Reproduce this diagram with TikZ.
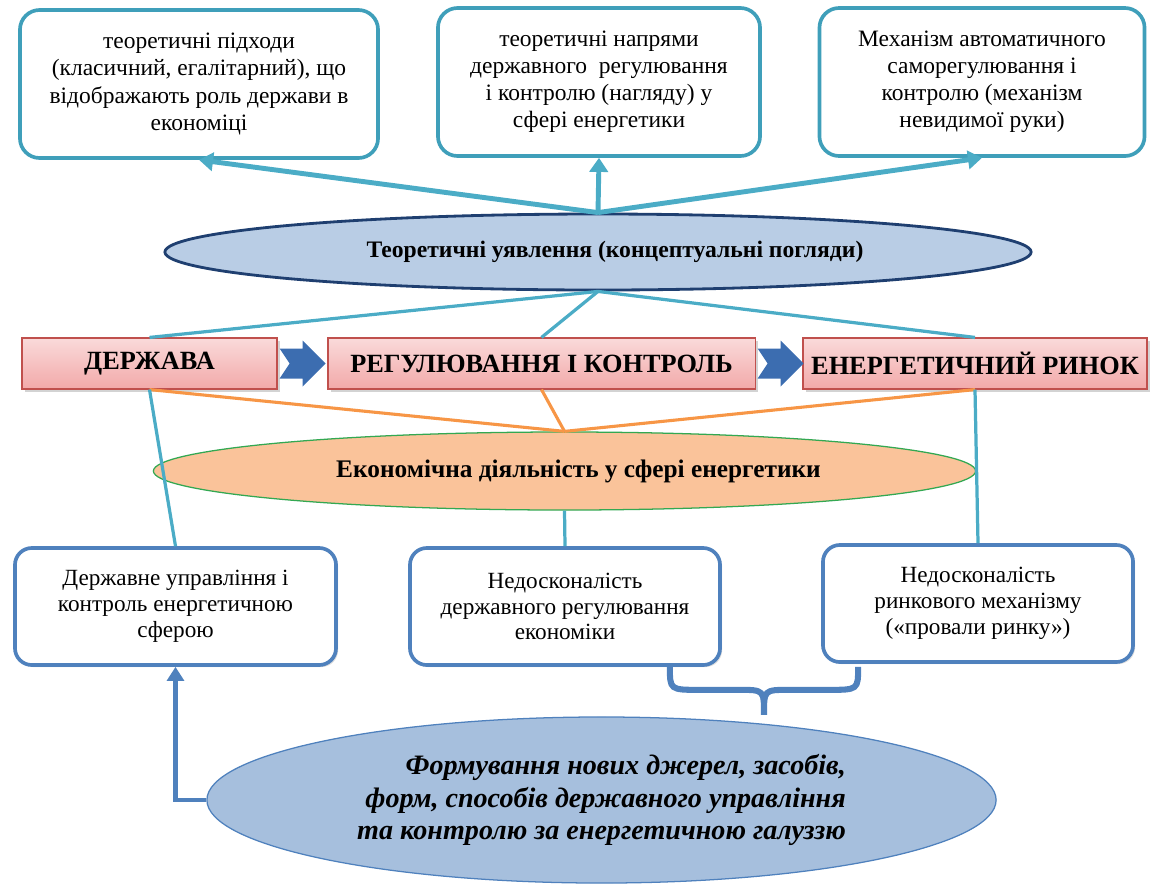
\documentclass[tikz,border=0pt]{standalone}
\usepackage{fontspec}
\setmainfont{Liberation Serif}
\usetikzlibrary{shapes.geometric,shadows,arrows.meta,calc}
\definecolor{tealline}{HTML}{4BACC6}
\definecolor{tealborder}{HTML}{3F9FBA}
\definecolor{navyline}{HTML}{1F3F70}
\definecolor{skyfill}{HTML}{B9CDE5}
\definecolor{pinktop}{HTML}{FADADA}
\definecolor{pinkbot}{HTML}{F2A9A9}
\definecolor{pinkline}{HTML}{C0504D}
\definecolor{orangeline}{HTML}{F79646}
\definecolor{peachfill}{HTML}{FAC39A}
\definecolor{greenline}{HTML}{33A852}
\definecolor{officeblue}{HTML}{4F81BD}
\definecolor{blockblue}{HTML}{3C6DB0}
\definecolor{bluefill}{HTML}{A6BFDD}

\begin{document}
\begin{tikzpicture}[x=0.025cm,y=-0.025cm,
  topbox/.style={draw=tealborder,line width=2.6pt,rounded corners=14pt,fill=white,
    minimum height=3.7cm,align=center,font=\fontsize{16.7}{19.3}\selectfont},
  statebox/.style={draw=pinkline,line width=0.8pt,top color=pinktop,bottom color=pinkbot,
    minimum height=1.275cm,font=\fontsize{18.7}{21}\selectfont\bfseries,
    drop shadow={shadow xshift=2pt,shadow yshift=-2pt,opacity=0.35}},
  lowbox/.style={draw=officeblue,line width=2.6pt,rounded corners=12pt,fill=white,
    minimum width=7.75cm,minimum height=2.925cm,align=center,
    font=\fontsize{16.5}{18.3}\selectfont,
    drop shadow={shadow xshift=1.5pt,shadow yshift=-1.5pt,opacity=0.25}},
  tealarrow/.style={draw=tealline,line width=3.5pt,-{Triangle[width=13pt,length=10pt]}},
  tealthin/.style={draw=tealline,line width=2.3pt},
  orangethin/.style={draw=orangeline,line width=2.2pt},
  brace/.style={draw=officeblue,line width=4.3pt}]
\useasboundingbox (0,0) rectangle (1157,890);
\node[topbox,minimum width=8.95cm] (tp) at (199,84)
  {теоретичні підходи\\(класичний, егалітарний), що\\відображають роль держави в\\економіці};
\node[topbox,minimum width=8.05cm] (tn) at (599,82)
  {теоретичні напрями\\державного\ \ регулювання\\і контролю (нагляду) у\\сфері енергетики};
\node[topbox,minimum width=8.125cm] (tm) at (982,82)
  {Механізм автоматичного\\саморегулювання і\\контролю (механізм\\невидимої руки)};
\node[ellipse,draw=navyline,line width=2pt,fill=skyfill,minimum width=21.65cm,minimum height=1.9cm,
  font=\fontsize{16.8}{19}\selectfont\bfseries] (te) at (598,252)
  {\hspace{0.85cm}Теоретичні уявлення (концептуальні погляди)};
\node[statebox,minimum width=6.375cm] (st) at (149.5,363.5) {ДЕРЖАВА};
\node[statebox,minimum width=10.675cm] (rk) at (541.5,363.5) {РЕГУЛЮВАННЯ І КОНТРОЛЬ};
\node[statebox,minimum width=8.6cm] (mk) at (975,363.5) {ЕНЕРГЕТИЧНИЙ РИНОК};
\node[ellipse,draw=greenline,line width=0.9pt,fill=peachfill,minimum width=20.55cm,minimum height=1.95cm,
  font=\fontsize{18}{20}\selectfont\bfseries] (ea) at (564.5,471)
  {\hspace{0.7cm}Економічна діяльність у сфері енергетики};
\node[lowbox,minimum width=8.025cm] (dc) at (175.5,606.5)
  {Державне управління і\\контроль енергетичною\\сферою};
\node[lowbox] (nd) at (565,606.5)
  {Недосконалість\\державного регулювання\\економіки};
\node[lowbox] (nr) at (978,603.5)
  {Недосконалість\\ринкового механізму\\(«провали ринку»)};
\node[ellipse,draw=officeblue,line width=0.9pt,fill=bluefill,minimum width=19.725cm,minimum height=4.15cm,
  align=right,font=\fontsize{20}{23}\selectfont\bfseries\itshape] (be) at (601.5,800)
  {Формування нових джерел, засобів,\\форм, способів державного управління\\та контролю за енергетичною галуззю};
\foreach \b in {tp,tn,tm}
  \draw[tealarrow] (te.north) -- (\b.south);
\foreach \b in {st,rk,mk}
  \draw[tealthin] (te.south) -- (\b.north);
\foreach \a/\b in {st/rk,rk/mk}
  \fill[blockblue] ($(\a.east)+(2,-15)$) -- ($(\a.east)+(25,-15)$) -- ($(\a.east)+(25,-23)$)
    -- ($(\a.east)+(48,0)$) -- ($(\a.east)+(25,23)$) -- ($(\a.east)+(25,15)$)
    -- ($(\a.east)+(2,15)$) -- ($(\a.east)+(12,0)$) -- cycle;
\foreach \a in {st,rk,mk}
  \draw[orangethin] (\a.south) -- (ea.north);
\draw[tealthin] (st.south) -- (dc.north);
\draw[tealthin] (ea.south) -- (nd.north);
\draw[tealthin] (mk.south) -- (nr.north);
\coordinate (bl) at ($(nd.south east)+(-52,0)$);
\coordinate (br) at ($(nr.south west)+(37,3)$);
\coordinate (btip) at ($(bl)!0.5!(br)+(0,48)$);
\draw[brace] (bl) .. controls ($(bl)+(0,23)$) .. ($(bl)+(30,23)$) -- ($(btip)+(-25,-25)$)
  .. controls ($(btip)+(0,-25)$) .. (btip) .. controls ($(btip)+(0,-25)$) .. ($(btip)+(25,-25)$)
  -- ($(br)+(-30,23)$) .. controls ($(br)+(0,23)$) .. (br);
\draw[draw=officeblue,line width=3.5pt,-{Triangle[width=12pt,length=10pt]}] (be.west) -| (dc.south);
\end{tikzpicture}
\end{document}
